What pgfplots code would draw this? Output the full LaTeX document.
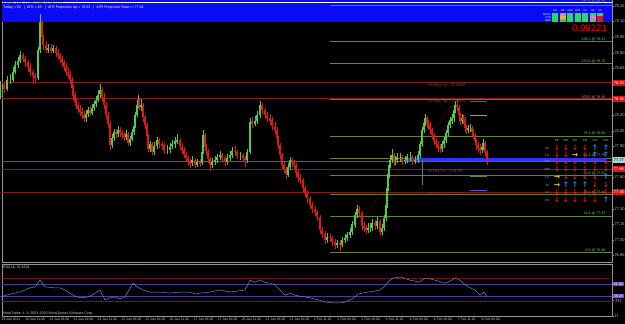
\documentclass[border=0pt]{standalone}
\usepackage{pgfplots}
\pgfplotsset{compat=1.18}
\usepackage{pgfplotstable}
\usepackage{fontspec}
\setmainfont{Liberation Sans}
\newfontfamily\arr{DejaVu Sans}
\definecolor{up}{RGB}{80,205,70}
\definecolor{dn}{RGB}{225,25,20}
\definecolor{fibline}{RGB}{95,135,45}
\definecolor{fibtext}{RGB}{150,200,70}
\definecolor{atrline}{RGB}{140,25,25}
\definecolor{atrtext}{RGB}{165,60,50}
\definecolor{band}{RGB}{10,10,245}
\definecolor{bidline}{RGB}{35,55,255}
\definecolor{rsiline}{RGB}{100,140,220}
\definecolor{rsilev}{RGB}{85,55,160}
\definecolor{rsibox}{RGB}{120,70,200}
\definecolor{axisgray}{RGB}{150,150,150}
\definecolor{ticktext}{RGB}{200,200,200}
\definecolor{boxred}{RGB}{215,20,20}
\definecolor{boxteal}{RGB}{170,215,215}
\definecolor{sigblue}{RGB}{40,140,255}
\definecolor{sigyel}{RGB}{240,210,30}
\definecolor{lime}{RGB}{40,220,90}
\definecolor{pinkc}{RGB}{235,120,200}
\definecolor{orangec}{RGB}{240,180,40}
\definecolor{midgray}{RGB}{95,95,95}
\newcommand{\fs}[1]{\fontsize{#1}{#1}\selectfont}

\pgfplotstableread{
x o c h l
0 78.40 78.49 78.53 78.36
4 78.49 78.45 78.52 78.41
7 78.45 78.54 78.58 78.43
10 78.54 78.54 78.60 78.50
13 78.54 78.62 78.66 78.52
15 78.62 78.68 78.72 78.60
18 78.68 78.72 78.76 78.65
20 78.72 78.78 78.82 78.70
23 78.78 78.74 78.80 78.71
25 78.74 78.71 78.77 78.66
28 78.71 78.66 78.73 78.62
30 78.66 78.62 78.70 78.58
33 78.62 78.58 78.64 78.50
35 78.58 78.56 78.61 78.52
38 78.56 78.83 78.86 78.54
40 78.83 79.10 79.17 78.80
42 79.10 78.95 79.12 78.90
43 78.95 78.88 78.97 78.83
46 78.88 78.83 78.91 78.80
48 78.83 78.85 78.89 78.80
51 78.85 78.82 78.88 78.79
53 78.82 78.85 78.88 78.80
56 78.85 78.80 78.87 78.76
58 78.80 78.78 78.84 78.74
60 78.78 78.74 78.80 78.70
62 78.74 78.71 78.77 78.66
64 78.71 78.66 78.73 78.63
66 78.66 78.62 78.70 78.58
68 78.62 78.60 78.66 78.55
70 78.60 78.54 78.63 78.50
72 78.54 78.46 78.57 78.43
73 78.46 78.39 78.48 78.35
75 78.39 78.33 78.42 78.29
76 78.33 78.30 78.36 78.26
78 78.30 78.26 78.33 78.22
80 78.26 78.23 78.30 78.19
82 78.23 78.20 78.27 78.16
84 78.20 78.17 78.24 78.13
86 78.17 78.21 78.25 78.14
88 78.21 78.25 78.28 78.18
90 78.25 78.22 78.29 78.19
92 78.22 78.27 78.31 78.20
94 78.27 78.31 78.34 78.24
96 78.31 78.35 78.39 78.28
98 78.35 78.40 78.44 78.33
100 78.40 78.44 78.50 78.37
102 78.44 78.38 78.47 78.34
104 78.38 78.30 78.41 78.26
106 78.30 78.20 78.33 78.16
108 78.20 78.12 78.23 78.08
110 78.12 77.91 78.15 77.87
112 77.91 77.98 78.02 77.88
114 77.98 78.04 78.07 77.95
116 78.04 78.02 78.07 77.98
118 78.02 78.06 78.10 77.99
120 78.06 78.03 78.09 77.99
122 78.03 78.01 78.06 77.97
124 78.01 77.99 78.04 77.95
126 77.99 78.02 78.06 77.96
128 78.02 77.93 78.04 77.90
130 77.93 77.97 78.00 77.90
132 77.97 78.04 78.07 77.95
134 78.04 78.10 78.13 78.01
135 78.10 78.20 78.23 78.08
137 78.20 78.30 78.34 78.18
138 78.30 78.35 78.39 78.27
139 78.35 78.28 78.37 78.25
141 78.28 78.30 78.36 78.24
143 78.30 78.18 78.32 78.14
145 78.18 78.11 78.20 78.07
147 78.11 78.00 78.13 77.96
148 78.00 77.88 78.02 77.85
150 77.88 77.92 77.95 77.85
152 77.92 77.85 77.94 77.82
154 77.85 77.90 77.94 77.82
157 77.90 77.96 77.99 77.88
159 77.96 77.92 77.98 77.89
162 77.92 77.91 77.95 77.87
164 77.91 77.87 77.93 77.83
167 77.87 77.87 77.91 77.83
170 77.87 77.90 77.93 77.84
172 77.90 77.92 77.96 77.88
175 77.92 77.95 77.99 77.89
177 77.95 77.96 78.02 77.92
180 77.96 77.90 77.98 77.87
182 77.90 77.87 77.93 77.83
184 77.87 77.82 77.89 77.79
186 77.82 77.79 77.85 77.75
188 77.79 77.75 77.81 77.71
190 77.75 77.74 77.78 77.69
192 77.74 77.77 77.81 77.71
195 77.77 77.72 77.79 77.69
197 77.72 77.75 77.78 77.70
200 77.75 77.74 77.78 77.70
202 77.74 77.85 77.89 77.72
203 77.85 78.01 78.06 77.83
205 78.01 77.90 78.03 77.87
206 77.90 77.86 77.92 77.82
208 77.86 77.78 77.88 77.74
210 77.78 77.72 77.80 77.66
212 77.72 77.75 77.79 77.69
215 77.75 77.77 77.81 77.72
217 77.77 77.80 77.83 77.74
220 77.80 77.82 77.86 77.77
222 77.82 77.79 77.84 77.75
225 77.79 77.75 77.81 77.71
227 77.75 77.79 77.83 77.72
230 77.79 77.82 77.86 77.76
232 77.82 77.86 77.89 77.79
235 77.86 77.85 77.90 77.81
237 77.85 77.82 77.87 77.78
240 77.82 77.82 77.85 77.77
243 77.82 77.79 77.84 77.75
245 77.79 77.77 77.81 77.70
247 77.77 77.85 77.88 77.74
250 77.85 78.14 78.17 77.83
252 78.14 78.12 78.18 78.08
255 78.12 78.15 78.19 78.10
257 78.15 78.20 78.24 78.12
260 78.20 78.30 78.34 78.17
262 78.30 78.25 78.32 78.21
265 78.25 78.20 78.27 78.16
267 78.20 78.17 78.23 78.13
270 78.17 78.15 78.21 78.11
272 78.15 78.10 78.18 78.06
275 78.10 78.06 78.13 78.02
277 78.06 77.98 78.09 77.95
278 77.98 77.91 78.00 77.88
280 77.91 77.82 77.93 77.78
282 77.82 77.72 77.84 77.68
284 77.72 77.68 77.75 77.64
286 77.68 77.63 77.70 77.59
288 77.63 77.70 77.74 77.61
290 77.70 77.77 77.80 77.67
292 77.77 77.74 77.79 77.70
294 77.74 77.72 77.77 77.68
296 77.72 77.65 77.74 77.61
298 77.65 77.60 77.67 77.56
300 77.60 77.58 77.63 77.54
303 77.58 77.50 77.60 77.46
305 77.50 77.45 77.52 77.41
307 77.45 77.40 77.48 77.36
310 77.40 77.34 77.42 77.30
312 77.34 77.30 77.37 77.26
315 77.30 77.27 77.33 77.23
317 77.27 77.22 77.29 77.18
320 77.22 77.10 77.24 77.06
322 77.10 77.06 77.13 77.02
325 77.06 77.00 77.09 76.96
327 77.00 77.03 77.07 76.97
330 77.03 77.02 77.06 76.98
332 77.02 76.98 77.04 76.94
335 76.98 76.95 77.01 76.91
337 76.95 76.97 77.00 76.92
340 76.97 76.95 77.00 76.90
342 76.95 77.00 77.03 76.93
345 77.00 77.02 77.06 76.97
347 77.02 77.05 77.08 76.99
350 77.05 77.08 77.12 77.02
352 77.08 77.15 77.18 77.05
355 77.15 77.24 77.27 77.12
357 77.24 77.30 77.34 77.21
359 77.30 77.26 77.33 77.22
362 77.26 77.14 77.28 77.10
364 77.14 77.12 77.17 77.08
366 77.12 77.10 77.15 77.06
368 77.10 77.12 77.16 77.07
370 77.12 77.12 77.16 77.08
372 77.12 77.16 77.20 77.09
375 77.16 77.14 77.19 77.10
377 77.14 77.18 77.22 77.11
380 77.18 77.08 77.20 77.04
382 77.08 77.12 77.15 77.05
384 77.12 77.21 77.24 77.09
386 77.21 77.34 77.37 77.18
387 77.34 77.50 77.53 77.31
388 77.50 77.63 77.66 77.47
389 77.63 77.72 77.76 77.60
390 77.72 77.77 77.82 77.69
392 77.77 77.82 77.88 77.74
394 77.82 77.75 77.84 77.71
395 77.75 77.77 77.81 77.72
397 77.77 77.80 77.84 77.74
400 77.80 77.80 77.84 77.75
402 77.80 77.76 77.82 77.72
405 77.76 77.77 77.81 77.73
407 77.77 77.80 77.83 77.74
410 77.80 77.80 77.85 77.76
412 77.80 77.76 77.82 77.72
415 77.76 77.77 77.81 77.73
418 77.77 77.82 77.86 77.74
420 77.82 77.92 77.95 77.79
422 77.92 78.06 78.09 77.90
424 78.06 78.13 78.16 78.03
425 78.13 78.17 78.21 78.10
427 78.17 78.12 78.19 78.08
428 78.12 78.11 78.15 78.07
430 78.11 78.06 78.13 78.02
432 78.06 78.01 78.08 77.97
434 78.01 77.95 78.03 77.91
436 77.95 77.92 77.98 77.88
438 77.92 77.89 77.95 77.85
440 77.89 77.88 77.92 77.84
442 77.88 77.92 77.95 77.85
444 77.92 77.96 77.99 77.89
446 77.96 78.03 78.06 77.93
448 78.03 78.11 78.14 78.00
450 78.11 78.15 78.18 78.08
452 78.15 78.17 78.21 78.12
454 78.17 78.25 78.28 78.14
455 78.25 78.30 78.34 78.22
457 78.30 78.28 78.35 78.24
459 78.28 78.20 78.30 78.16
460 78.20 78.15 78.22 78.11
462 78.15 78.17 78.21 78.12
463 78.17 78.16 78.20 78.12
465 78.16 78.08 78.18 78.04
466 78.08 78.06 78.11 78.02
468 78.06 78.08 78.11 78.03
470 78.08 78.08 78.12 78.04
472 78.08 78.04 78.10 78.00
473 78.04 78.01 78.07 77.97
475 78.01 77.95 78.03 77.91
476 77.95 77.91 77.97 77.87
478 77.91 77.88 77.94 77.84
480 77.88 77.87 77.92 77.82
482 77.87 77.90 77.93 77.84
483 77.90 77.93 77.97 77.87
485 77.93 77.85 77.95 77.81
487 77.85 77.77 77.87 77.72
}\candles

\pgfplotstableread{
x v
0 36.5
10 42
20 46
30 54
35 56
40 69
45 56
55 54
60 54
65 50
70 44
75 38
80 35
88 36.5
92 40
100 50
105 31
110 35
115 36.5
120 33
125 36.5
133 63
137 56
143 50
150 46
160 46
170 44
180 46
190 46
195 42
200 44
210 46
220 50
230 46
245 50
250 69
255 65
260 69
265 65
270 63
275 60
280 50
285 40
290 44
295 40
300 38
305 36.5
310 35
318 31
325 27
335 25
340 25
345 27
350 31
355 36.5
358 42
362 44
368 46
375 48
380 50
384 56
388 65
393 73
400 75
410 69
420 65
425 73
435 69
445 63
450 67
455 73
460 69
465 60
470 54
475 50
480 40
484 46
487 36.83
}\rsidata

% signal arrows
\newcommand{\sigd}[2]{\node[text=dn,font=\arr\bfseries\fs{7.5},inner sep=0pt] at (#1,#2) {↓};}
\newcommand{\sigu}[2]{\node[text=sigblue,font=\arr\bfseries\fs{7.5},inner sep=0pt] at (#1,#2) {↑};}
\newcommand{\sigr}[2]{\node[text=sigyel,font=\arr\bfseries\fs{7.5},inner sep=0pt] at (#1,#2) {→};}
\newcommand{\sig}[3]{\csname sig#3\endcsname{#1}{#2}}
\newcommand{\arow}[8]{%
  \node[text=axisgray,font=\fs{3},inner sep=0pt] at (547,#1) {#2};
  \sig{557}{#1}{#3}\sig{566}{#1}{#4}\sig{575}{#1}{#5}%
  \sig{585}{#1}{#6}\sig{595}{#1}{#7}\sig{606}{#1}{#8}}
\newcommand{\blk}[3]{\fill[#3] (#1,#2) rectangle ++(6.3,2.2);}
\newcommand{\fiblab}[2]{\node[anchor=south east, text=fibtext, font=\fs{3.6}, inner sep=0.4pt] at (axis cs:606,#1) {#2 @ #1};}
\newcommand{\atrlab}[2]{\node[anchor=west, text=atrtext, font=\fs{4.2}, inner sep=0pt] at (axis cs:428,#1) {#2};}
\newcommand{\hdr}[2]{\node[text=ticktext, font=\fs{3}, inner sep=0pt] at (#1,140.5) {#2};}

\begin{document}
\begin{tikzpicture}[x=1pt,y=1pt]
\useasboundingbox (0,0) rectangle (625,324);
\fill[black] (0,0) rectangle (625,324);

% ---------------- main price window ----------------
\begin{axis}[
  at={(2pt,62pt)}, anchor=south west, scale only axis,
  width=610pt, height=262pt,
  xmin=2, xmax=612, ymin=76.7885, ymax=79.3077,
  clip=false,
  axis line style={draw=axisgray, line width=0.4pt},
  xtick=\empty,
  ytick={76.85,77.00,77.15,77.30,77.60,77.90,78.05,78.20,78.65,78.80,78.95,79.10,79.25},
  extra y ticks={77.45,77.75,78.35,78.50}, extra y tick labels={},
  ytick pos=right, yticklabel pos=right,
  tick align=outside, major tick length=1.5pt,
  tick style={draw=axisgray, line width=0.4pt},
  yticklabel style={font=\fs{4}, text=ticktext, inner sep=0.8pt,
    /pgf/number format/fixed, /pgf/number format/fixed zerofill,
    /pgf/number format/precision=2, /pgf/number format/assume math mode=true},
  scaled y ticks=false,
]
% header band
\fill[band] (axis cs:2,79.0962) rectangle (axis cs:612,79.3077);
\addplot[white, line width=0.5pt, forget plot] coordinates {(2,79.284) (612,79.284)};
% fibonacci levels
\addplot[fibline, line width=0.6pt, forget plot] coordinates {(330,79.26) (612,79.26)};
\addplot[fibline, line width=0.6pt, forget plot] coordinates {(330,78.91) (612,78.91)};
\addplot[fibline, line width=0.6pt, forget plot] coordinates {(330,78.70) (612,78.70)};
\addplot[fibline, line width=0.6pt, forget plot] coordinates {(330,78.35) (612,78.35)};
\addplot[fibline, line width=0.6pt, forget plot] coordinates {(330,78.00) (612,78.00)};
\addplot[fibline, line width=0.6pt, forget plot] coordinates {(330,77.79) (612,77.79)};
\addplot[fibline, line width=0.6pt, forget plot] coordinates {(330,77.62) (612,77.62)};
\addplot[fibline, line width=0.6pt, forget plot] coordinates {(330,77.44) (612,77.44)};
\addplot[fibline, line width=0.6pt, forget plot] coordinates {(330,77.23) (612,77.23)};
\addplot[fibline, line width=0.6pt, forget plot] coordinates {(330,76.88) (612,76.88)};
% ATR levels
\addplot[atrline, line width=0.6pt, forget plot] coordinates {(2,78.52) (612,78.52)};
\addplot[atrline, line width=0.6pt, forget plot] coordinates {(2,78.36) (612,78.36)};
\addplot[atrline, line width=0.6pt, forget plot] coordinates {(2,77.68) (612,77.68)};
\addplot[atrline, line width=0.6pt, forget plot] coordinates {(2,77.46) (612,77.46)};
% bid / current lines
\addplot[midgray, line width=0.7pt, forget plot] coordinates {(2,77.76) (612,77.76)};
\addplot[bidline, line width=2.8pt, forget plot] coordinates {(405,77.775) (606,77.775)};
% fib trend line and small segments
\addplot[atrline!80!red, densely dotted, line width=0.6pt, forget plot] coordinates {(337,76.90) (457,78.35)};
\addplot[fibline!70!gray, line width=0.5pt, forget plot] coordinates {(422,77.77) (422,77.53)};
\addplot[gray!80, line width=0.6pt, forget plot] coordinates {(470,78.20) (487,78.20)};
\addplot[rsibox, line width=0.6pt, forget plot] coordinates {(470,78.33) (487,78.33)};
\addplot[fibline, line width=0.6pt, forget plot] coordinates {(470,77.615) (487,77.615)};
\addplot[rsibox, line width=0.6pt, forget plot] coordinates {(470,77.48) (487,77.48)};
% candles: wicks
\addplot[draw=none, mark=none, forget plot,
  restrict expr to domain={\thisrow{c}-\thisrow{o}}{0:100},
  error bars/.cd, y dir=both, y explicit, error mark=none,
  error bar style={draw=up, line width=0.5pt, solid}]
  table[x=x, y expr={(\thisrow{h}+\thisrow{l})/2}, y error expr={(\thisrow{h}-\thisrow{l})/2}] {\candles};
\addplot[draw=none, mark=none, forget plot,
  restrict expr to domain={\thisrow{c}-\thisrow{o}}{-100:-0.001},
  error bars/.cd, y dir=both, y explicit, error mark=none,
  error bar style={draw=dn, line width=0.5pt, solid}]
  table[x=x, y expr={(\thisrow{h}+\thisrow{l})/2}, y error expr={(\thisrow{h}-\thisrow{l})/2}] {\candles};
% candles: bodies
\addplot[draw=none, mark=none, forget plot,
  restrict expr to domain={\thisrow{c}-\thisrow{o}}{0:100},
  error bars/.cd, y dir=both, y explicit, error mark=none,
  error bar style={draw=up, line width=1.3pt, solid}]
  table[x=x, y expr={(\thisrow{o}+\thisrow{c})/2}, y error expr={abs(\thisrow{c}-\thisrow{o})/2}] {\candles};
\addplot[draw=none, mark=none, forget plot,
  restrict expr to domain={\thisrow{c}-\thisrow{o}}{-100:-0.001},
  error bars/.cd, y dir=both, y explicit, error mark=none,
  error bar style={draw=dn, line width=1.3pt, solid}]
  table[x=x, y expr={(\thisrow{o}+\thisrow{c})/2}, y error expr={abs(\thisrow{c}-\thisrow{o})/2}] {\candles};
% ATR labels
\atrlab{78.49}{ATR(y) up: 78.5640}
\atrlab{78.335}{ATR(d) up: 78.3854}
\atrlab{77.66}{ATR(y) lo: 77.6757}
\atrlab{77.44}{ATR(d) lo: 77.4957}
% fib labels
\fiblab{79.26}{161.8}
\fiblab{78.91}{138.2}
\fiblab{78.70}{123.6}
\fiblab{78.35}{100.0}
\fiblab{78.00}{76.4}
\fiblab{77.79}{61.8}
\fiblab{77.62}{50.0}
\fiblab{77.44}{38.2}
\fiblab{77.23}{23.6}
\fiblab{76.88}{0.0}
\end{axis}

% ---------------- RSI window ----------------
\begin{axis}[
  at={(2pt,8pt)}, anchor=south west, scale only axis,
  width=610pt, height=52pt,
  xmin=2, xmax=612, ymin=0, ymax=100,
  clip=false,
  axis line style={draw=axisgray, line width=0.4pt},
  xtick={2,26,50,74,98,122,146,170,194,218,242,266,290,314,338,362,386,410,434,458,482},
  xticklabels={19 Jan 2011,20 Jan 11:00,21 Jan 03:00,21 Jan 19:00,24 Jan 11:00,25 Jan 03:00,25 Jan 19:00,26 Jan 11:00,27 Jan 03:00,27 Jan 19:00,28 Jan 11:00,31 Jan 03:00,31 Jan 19:00,1 Feb 11:00,2 Feb 03:00,2 Feb 19:00,3 Feb 11:00,4 Feb 03:00,4 Feb 19:00,7 Feb 11:00,8 Feb 03:00},
  xtick pos=bottom,
  xticklabel style={font=\fs{3.4}, text=ticktext, anchor=north west, inner sep=0.5pt, xshift=-1pt},
  ytick={0,30}, ytick pos=right, yticklabel pos=right,
  tick align=outside, major tick length=1.5pt,
  tick style={draw=axisgray, line width=0.4pt},
  yticklabel style={font=\fs{4}, text=ticktext, inner sep=0.8pt},
]
\addplot[dn!80!black, densely dotted, line width=0.6pt, forget plot] coordinates {(2,72) (612,72)};
\addplot[dn!80!black, densely dotted, line width=0.6pt, forget plot] coordinates {(2,28) (612,28)};
\addplot[rsilev, line width=0.7pt, forget plot] coordinates {(2,61.8) (612,61.8)};
\addplot[rsilev, line width=0.7pt, forget plot] coordinates {(2,38.2) (612,38.2)};
\addplot[rsiline, line width=0.5pt, mark=none] table[x=x, y=v] {\rsidata};
\node[anchor=north west, text=ticktext, font=\fs{3.6}, inner sep=0pt] at (axis cs:3,97) {RSI(14) 36.8294};
\node[anchor=south west, text=ticktext, font=\fs{3.6}, inner sep=0pt] at (axis cs:3,1.5) {MetaTrader 4, © 2001-2010 MetaQuotes Software Corp.};
\end{axis}

% ---------------- overlays in pixel coordinates ----------------
\begin{scope}[shift={(0,324)}, yscale=-1]
% header texts
\node[anchor=north west, inner sep=0pt, text=black, font=\fs{3.6}] at (3,1.2) {EURJPY,H1\ \ 77.80 77.82 77.76 77.77};
\node[anchor=north west, inner sep=0pt, text=white, font=\fs{3.6}] at (3,5.5) {Today = 63 \ \ |\ \ ATR = 63 \ \ |\ \ ATR Projection Up = 78.53 \ \ |\ \ ATR Projection Down = 77.46};
% mini indicator table
\foreach \t [count=\i from 0] in {M1,M5,M15,M30,H1,H4,D1}{
  \node[text=white, font=\fs{2.6}, inner sep=0pt] at ({555.2+7.5*\i},11) {\t};}
\node[anchor=east, text=white, font=\fs{2.6}, inner sep=0pt] at (551,14.6) {MACD};
\node[anchor=east, text=white, font=\fs{2.6}, inner sep=0pt] at (551,17.6) {STR};
\node[anchor=east, text=white, font=\fs{2.6}, inner sep=0pt] at (551,20.6) {EMA};
\foreach \col [count=\i from 0] in {lime,pinkc,lime,lime,lime,lime,lime}{\blk{552+7.5*\i}{13.5}{\col}}
\foreach \col [count=\i from 0] in {lime,orangec,lime,lime,lime,pinkc,dn}{\blk{552+7.5*\i}{16.5}{\col}}
\foreach \col [count=\i from 0] in {lime,lime,lime,lime,lime,lime,dn}{\blk{552+7.5*\i}{19.5}{\col}}
\node[anchor=east, text=red, font=\fs{9.5}, inner sep=0pt] at (607,28.5) {0.99221};
% signal table
\hdr{557}{PA}\hdr{566}{E/E}\hdr{575}{T/C}\hdr{585}{CE}\hdr{595}{C/A}\hdr{606}{C/C}
\arow{148}{1M}{d}{d}{d}{d}{u}{u}
\arow{155}{5M}{d}{d}{r}{d}{u}{u}
\arow{161.5}{15M}{d}{d}{d}{d}{d}{d}
\arow{169}{30M}{d}{d}{d}{d}{d}{d}
\arow{177}{1H}{r}{d}{d}{d}{d}{u}
\arow{185}{4H}{r}{u}{u}{u}{d}{d}
\arow{192}{1D}{d}{d}{d}{d}{d}{d}
\arow{200}{1W}{d}{d}{d}{d}{d}{u}
% price boxes on the right axis
\foreach \yy/\t in {83/78.53,99/78.36,169/77.68,192/77.46}{
  \node[anchor=west, fill=boxred, text=white, font=\fs{4}, inner sep=0.6pt, minimum height=5.2pt, minimum width=11.5pt] at (613,\yy) {\t};}
\node[anchor=west, fill=boxteal, text=black, font=\fs{4}, inner sep=0.6pt, minimum height=5.2pt, minimum width=11.5pt] at (613,160) {77.77};
\node[anchor=west, fill=rsibox, text=white, font=\fs{3.6}, inner sep=0.5pt, minimum height=4.6pt, minimum width=10.5pt] at (613,283.9) {61.80};
\node[anchor=west, fill=rsibox, text=white, font=\fs{3.6}, inner sep=0.5pt, minimum height=4.6pt, minimum width=10.5pt] at (613,296.1) {38.20};
\end{scope}
\end{tikzpicture}
\end{document}
